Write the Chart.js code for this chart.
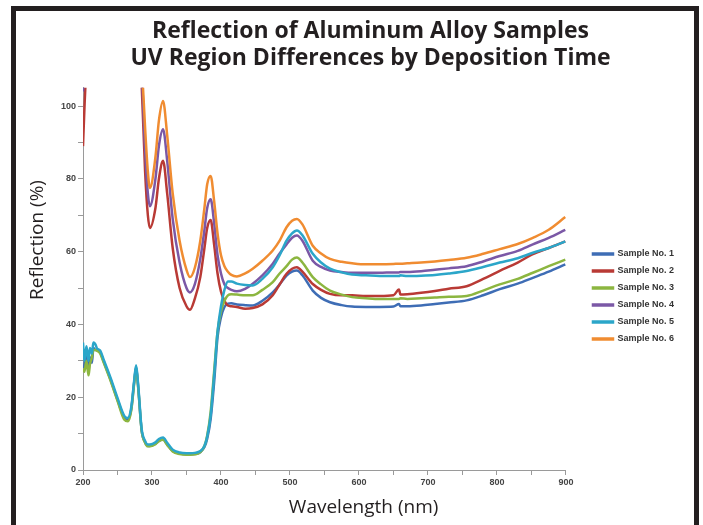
<!DOCTYPE html>
<html>
<head>
<meta charset="utf-8">
<script src="https://cdn.jsdelivr.net/npm/chart.js@4.4.1/dist/chart.umd.min.js"></script>
<style>
  body { margin: 0; background: #fff; overflow: hidden; }
  #frame {
    position: absolute; left: 11px; top: 6px;
    width: 678px; height: 600px;
    border: 5px solid #231f20;
    pointer-events: none;
  }
  #chart { position: absolute; left: 16px; top: 11px; }
</style>
</head>
<body>
<canvas id="chart" width="668" height="514"></canvas>
<div id="frame"></div>
<script>
const titleLines = ["Reflection of Aluminum Alloy Samples", "UV Region Differences by Deposition Time"];
const xCaption = "Wavelength (nm)";
const yCaption = "Reflection (%)";

const sampleLabels = ["Sample No. 1", "Sample No. 2", "Sample No. 3", "Sample No. 4", "Sample No. 5", "Sample No. 6"];
const sampleColors = ["#3e6db5", "#b93a35", "#8cb640", "#7b58a6", "#2ba6c9", "#f08c31"];

const xTickLabels = [200, 300, 400, 500, 600, 700, 800, 900];
const yTickLabels = [0, 20, 40, 60, 80, 100];

const wavelengths = [200,202,205,208,210,213,215,218,220,225,230,240,250,260,265,270,274,277,280,285,
  290,294,297,305,310,316,322,330,340,350,355,362,370,376,380,385,390,395,400,405,
  410,415,423,435,446,460,475,485,495,503,510,518,533,545,558,575,590,610,630,650,
  658,660,670,690,710,730,756,780,804,830,852,875,899];

const sample1 = [27,29,33,27,31,29.5,33.5,33,33,32.3,29.8,24.8,19.3,14.3,13.8,16.8,23.8,28.3,22.8,10.8,
  7.6,6.6,6.6,7.2,8,8.4,7,5.2,4.5,4.3,4.3,4.4,4.9,6.3,8.6,14,24,36.5,42,44.8,
  45.7,45.8,45.5,45.3,45.2,46.5,48.8,51,53.4,54.5,54.8,53.5,49.3,47.3,46.1,45.3,44.9,44.8,44.8,44.9,
  45.6,45,45,45.2,45.6,46,46.6,48,49.7,51.2,52.8,54.5,56.5];

const sample2 = [89,99,112,120,122,124,125,125,125,125,124,122,120,118,118,118,120,122,120,106,
  82,70,66.5,72,80,85,76,61,50,45,44,47,53,61,66.5,68.7,62,54,49,46.5,
  45.2,45,44.8,44.3,44.5,45.5,48,51,53.9,55.3,55.7,54.5,51.1,49.5,48.4,48,48,47.8,47.8,48,
  49.6,48.2,48.3,48.7,49.2,49.8,50.5,52.5,54.7,57,59.3,61,62.8];

const sample3 = [28,27,30,26,29,31,33,33,32.8,32,29.5,24.5,19,13.8,13.4,16.5,23.5,28,22.5,10.8,
  7.5,6.5,6.5,7.1,7.9,8.3,6.9,5.1,4.4,4.2,4.2,4.3,4.9,6.6,9.5,16,27,38,43.5,46.5,
  48,48.3,48.2,48,48,49.5,51.6,54,56,57.8,58.4,57,53,51,49.3,48.2,47.5,47.2,47,47,
  47,47.2,47,47.2,47.4,47.6,47.8,49.3,51,52.5,54.2,56,57.8];

const sample4 = [104,110,118,122,124,125,126,126,126,126,125,123,121,119,119,119,121,123,122,110,
  88,76,72.5,80,89,93.6,85,69,57,50,48.8,51,58,66,72,74.4,68,59,54,51,
  50,49.5,49.1,49.8,51.2,53.5,56.7,59.5,62,63.8,64.4,63,57.5,55.8,54.8,54.4,54.2,54.2,54.2,54.3,
  54.3,54.4,54.4,54.6,55,55.4,56,57.3,58.8,60.2,62,63.8,66];

const sample5 = [35,30,34,30,33.5,32,35,34.5,33.5,32.8,30.3,25.3,19.8,14.8,14.3,17.3,24.3,28.8,23.3,11.3,
  8,7,7,7.6,8.5,8.9,7.5,5.6,4.8,4.6,4.6,4.7,5.2,6.6,9.2,15,26,38,45,49.5,
  51.8,51.8,51.2,50.8,50.7,52.5,55.7,59,63,65,65.8,64.5,59.4,57,55.3,54.3,53.7,53.5,53.3,53.3,
  53.3,53.5,53.3,53.4,53.6,54,54.7,55.8,57,58.2,59.7,61,62.8];

const sample6 = [106,114,122,125,127,128,128,128,128,128,127,125,123,121,121,121,123,125,124,112,
  94,82,77.5,86,96,101.4,92,76,63,55,53,55.5,63,72,78.5,80.8,74,65,59,56,
  54.5,53.6,53.2,54,55.3,57.5,60.3,63,66.7,68.5,69,67.5,61.6,59.5,58,57.2,56.8,56.5,56.5,56.6,
  56.7,56.7,56.8,57,57.3,57.7,58.3,59.4,60.7,62.1,63.8,66,69.5];

const sampleValues = [sample1, sample2, sample3, sample4, sample5, sample6];

Chart.defaults.font.family = "'Liberation Sans', Arial, sans-serif";

// axis captions sit off-centre in the original, so they are drawn here
const axisCaptions = {
  id: "axisCaptions",
  afterDraw(chart) {
    const { ctx, chartArea } = chart;
    ctx.save();
    ctx.fillStyle = "#231f20";
    ctx.font = "19px 'Open Sans'";
    ctx.textAlign = "center";
    ctx.textBaseline = "middle";
    ctx.fillText(xCaption, chartArea.left + chartArea.width * 0.581, chartArea.bottom + 38);
    ctx.translate(chartArea.left - 45.5, chartArea.top + chartArea.height * 0.398);
    ctx.rotate(-Math.PI / 2);
    ctx.fillText(yCaption, 0, 0);
    ctx.restore();
  }
};

const datasets = sampleLabels.map((label, i) => ({
  label: label,
  data: wavelengths.map((w, j) => ({ x: w, y: sampleValues[i][j] })),
  borderColor: sampleColors[i],
  backgroundColor: sampleColors[i],
  borderWidth: 2.5,
  pointRadius: 0,
  fill: false,
  cubicInterpolationMode: "monotone",
  order: sampleLabels.length - i
}));

new Chart(document.getElementById("chart"), {
  type: "line",
  data: { datasets: datasets },
  options: {
    responsive: false,
    animation: false,
    layout: { padding: { left: 41, right: 0, top: 0, bottom: 35 } },
    plugins: {
      title: {
        display: true,
        text: titleLines,
        color: "#231f20",
        font: { family: "'Open Sans'", size: 23, weight: "bold", lineHeight: 1.16 },
        padding: { top: 7.5, bottom: 16 }
      },
      legend: {
        position: "right",
        fullSize: false,
        title: { display: true, text: "", font: { size: 10, lineHeight: 1 }, padding: { top: 25, bottom: 0 } },
        labels: {
          boxWidth: 20,
          boxHeight: 1,
          padding: 8,
          color: "#333",
          font: { size: 9, weight: "bold" },
          sort: (a, b) => a.datasetIndex - b.datasetIndex
        }
      },
      tooltip: { enabled: false }
    },
    scales: {
      x: {
        type: "linear",
        min: 200,
        max: 900,
        afterFit: s => { s.height = 20; },
        border: { display: true, color: "#9a9a9a" },
        grid: { drawOnChartArea: false, drawTicks: true, tickLength: 5, tickColor: "#9a9a9a" },
        ticks: {
          stepSize: 50,
          autoSkip: false,
          maxRotation: 0,
          padding: 2,
          color: "#444",
          font: { size: 9, weight: "bold" },
          callback: v => xTickLabels.includes(v) ? v : ""
        }
      },
      y: {
        min: 0,
        max: 105,
        afterFit: s => { s.width = 26; },
        border: { display: true, color: "#9a9a9a" },
        grid: { drawOnChartArea: false, drawTicks: true, tickLength: 5, tickColor: "#9a9a9a" },
        ticks: {
          stepSize: 10,
          includeBounds: false,
          padding: 2,
          color: "#444",
          font: { size: 9, weight: "bold" },
          callback: v => yTickLabels.includes(v) ? v : ""
        }
      },
      yRight: {
        position: "right",
        display: true,
        afterFit: s => { s.width = 19; },
        border: { display: false },
        grid: { drawOnChartArea: false, drawTicks: false },
        ticks: { display: false }
      }
    }
  },
  plugins: [axisCaptions]
});
</script>
</body>
</html>
